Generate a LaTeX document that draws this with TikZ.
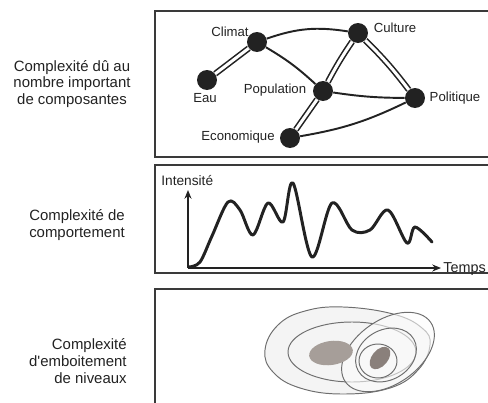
\documentclass[tikz,border=0pt]{standalone}
\usepackage{fontspec}
\setmainfont{Liberation Sans}
\usetikzlibrary{arrows.meta}
\definecolor{ink}{HTML}{222222}
\definecolor{frame}{HTML}{3A3A3A}
\definecolor{blobdark}{HTML}{8A807B}
\definecolor{blobmid}{HTML}{A69E99}
\definecolor{zonefill}{HTML}{F4F4F4}
\definecolor{zoneline}{HTML}{6E6E6E}
\tikzset{
  panel/.style={draw=frame, line width=0.8pt},
  dot/.style={circle, fill=ink, draw=none, minimum size=0.4cm, inner sep=0pt},
  lbl/.style={font=\fontsize{7.5}{9}\selectfont, text=ink, inner sep=0pt},
  side/.style={font=\fontsize{8.5}{9.6}\selectfont, text=ink, align=center, inner sep=0pt},
  link/.style={draw=ink, line width=1.1pt},
  dlink/.style={draw=ink, double=white, line width=0.9pt, double distance=1.7pt},
  axis/.style={draw=ink, line width=0.6pt, -{Stealth[length=5pt,width=4pt]}},
  signal/.style={draw=ink, line width=1.7pt, line cap=round, line join=round},
  zone/.style={draw=zoneline, line width=0.55pt},
}

\begin{document}
\begin{tikzpicture}[x=0.02cm, y=-0.02cm]
    \useasboundingbox (0,0) rectangle (488,403);
    \draw[panel] (155,11) rectangle (495,157);
    \draw[panel] (155,165) rectangle (495,273);
    \draw[panel] (155,289) rectangle (495,410);

    \node[side] (t1) at (72,84) {Complexité dû au\\nombre important\\de composantes};
    \node[side] (t2) at (77,225) {Complexité de\\comportement};
    \node[side, align=right, anchor=east] (t3) at (127,361) {Complexité\\d\textquotesingle emboitement\\de niveaux};

    \node[dot] (climat) at (257,42) {};
    \node[dot] (culture) at (358,33) {};
    \node[dot] (eau) at (207,80) {};
    \node[dot] (population) at (323,91) {};
    \node[dot] (politique) at (415,98) {};
    \node[dot] (economique) at (290,138) {};
    \node[lbl] (lclimat) at (230,32) {Climat};
    \node[lbl] (lculture) at (395,28) {Culture};
    \node[lbl] (leau) at (205,98) {Eau};
    \node[lbl] (lpopulation) at (275,90) {Population};
    \node[lbl] (lpolitique) at (455,98) {Politique};
    \node[lbl] (leconomique) at (238,137) {Economique};
    \draw[dlink] (eau) -- (climat);
    \draw[link] (climat) to[bend left=14] (culture);
    \draw[link] (climat) to[bend left=6] (population);
    \draw[dlink] (culture) to[bend right=3] (population);
    \draw[dlink] (culture) to[bend left=4] (politique);
    \draw[link] (population) to[bend right=4] (politique);
    \draw[dlink] (population) -- (economique);
    \draw[link] (economique) to[bend right=8] (politique);

    \coordinate (origin) at (188,268);
    \coordinate (ytop) at (188,190);
    \coordinate (xend) at (441,268);
    \draw[axis] (origin) -- (ytop);
    \draw[axis] (origin) -- (xend);
    \node[lbl, font=\fontsize{7.8}{9}\selectfont, anchor=south west] (lint) at (161,186) {Intensité};
    \node[lbl, font=\fontsize{8.2}{9}\selectfont, anchor=west] (ltemps) at (443,269) {Temps};
    \draw[signal] plot[smooth, tension=0.55] coordinates {
      (189,267) (200,262) (212,236) (228,202) (240,210) (253,235) (268,203)
      (283,222) (293,183) (312,257) (332,203) (352,230) (370,230) (388,210)
      (407,243) (415,227) (432,242)};

    \draw[zone, fill=zonefill] plot[smooth cycle, tension=0.7] coordinates {
      (265,350) (278,325) (305,311) (343,307) (393,314) (422,328) (430,345)
      (418,370) (390,388) (343,394) (300,388) (273,372)};
    \draw[zone] (352,352) ellipse [x radius=64, y radius=30];
    \begin{scope}[rotate around={35:(388,352)}]
      \draw[zone, fill=gray!3, fill opacity=0.6] (388,352) ellipse [x radius=52, y radius=32];
    \end{scope}
    \begin{scope}[rotate around={30:(386,355)}]
      \draw[zone] (386,355) ellipse [x radius=32, y radius=25];
    \end{scope}
    \draw[zone] (378,361) ellipse [x radius=19, y radius=17];
    \begin{scope}[rotate around={8:(331,353)}]
      \fill[blobmid] (331,353) ellipse [x radius=22, y radius=12];
    \end{scope}
    \begin{scope}[rotate around={50:(380,358)}]
      \fill[blobdark] (380,358) ellipse [x radius=13, y radius=8];
    \end{scope}
  \end{tikzpicture}
\end{document}
